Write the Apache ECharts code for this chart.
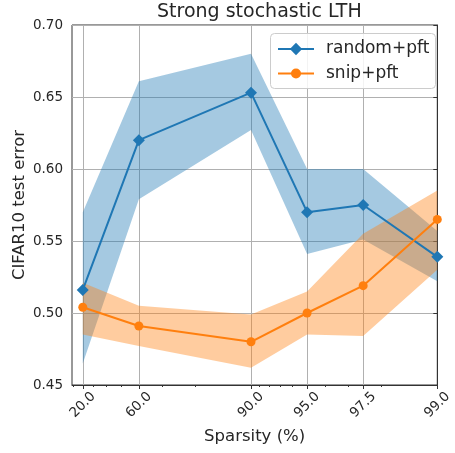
<!DOCTYPE html>
<html><head><meta charset="utf-8">
<script src="https://cdn.jsdelivr.net/npm/echarts@6/dist/echarts.min.js"></script>
<style>html,body{margin:0;padding:0;background:#fff}#c{width:455px;height:453px}</style>
</head><body><div id="c"></div><script>
// ---- data ----
const sparsity = [20.0, 60.0, 90.0, 95.0, 97.5, 99.0];
const xTickLabels = ['20.0', '60.0', '90.0', '95.0', '97.5', '99.0'];
const minorSparsity = [10, 30, 40, 50, 70, 80, 91, 92, 93, 94, 96, 97, 98];
const randomMean = [0.516, 0.620, 0.653, 0.570, 0.575, 0.539];
const randomLow  = [0.465, 0.579, 0.627, 0.541, 0.551, 0.522];
const randomHigh = [0.570, 0.661, 0.680, 0.600, 0.600, 0.557];
const snipMean = [0.504, 0.491, 0.480, 0.500, 0.519, 0.565];
const snipLow  = [0.485, 0.477, 0.462, 0.485, 0.484, 0.530];
const snipHigh = [0.521, 0.505, 0.499, 0.515, 0.555, 0.585];
const xLeftSparsity = 8.6; // axis left limit (in sparsity %)

// log scale of remaining weights (100 - sparsity), inverted
const toAxis = s => Math.log10(100 - s);
const fromAxis = v => 100 - Math.pow(10, v);

const FONT = 'DejaVu Sans';
const TXT = '#262626';
const BLUE = '#1f77b4', ORANGE = '#ff7f0e';

const pts = (ys) => sparsity.map((s, i) => [toAxis(s), ys[i]]);
const bandRows = (lo, hi) => sparsity.map((s, i) => [toAxis(s), lo[i], hi[i]]);

function bandSeries(name, lo, hi, fill, z) {
  const rows = bandRows(lo, hi);
  return {
    name: name, type: 'custom', data: rows, silent: true, z: z,
    encode: {x: 0, y: [1, 2]},
    renderItem: (params, api) => {
      if (params.dataIndex !== 0) return;
      const upper = rows.map(r => api.coord([r[0], r[2]]));
      const lower = rows.map(r => api.coord([r[0], r[1]])).reverse();
      return {type: 'polygon', shape: {points: upper.concat(lower)}, style: {fill: fill}};
    }
  };
}

const legendCommon = {
  orient: 'vertical', padding: 0, itemWidth: 36, z: 12,
  textStyle: {fontFamily: FONT, fontSize: 17, color: TXT, padding: [0, 0, 0, 7]}
};

const chart = echarts.init(document.getElementById('c'), null, {renderer: 'canvas'});
const xMin = 0, xMax = toAxis(xLeftSparsity);

chart.setOption({
  animation: false,
  backgroundColor: '#fff',
  textStyle: {fontFamily: FONT},
  title: {
    text: 'Strong stochastic LTH',
    left: 157, top: 3, padding: 0,
    textStyle: {fontFamily: FONT, fontSize: 19, fontWeight: 'normal', color: TXT}
  },
  grid: {left: 72, right: 12, top: 25, bottom: 68, show: true, borderColor: '#333', borderWidth: 1, containLabel: false},
  graphic: [{
    type: 'rect', left: 270, top: 33, z: 10,
    shape: {width: 165, height: 55, r: 4},
    style: {fill: 'rgba(255,255,255,0.85)', stroke: '#cccccc', lineWidth: 1}
  }],
  legend: [
    Object.assign({data: ['random+pft'], left: 277, top: 40.5, itemHeight: 15.4}, legendCommon),
    Object.assign({data: ['snip+pft'], left: 277, top: 65, itemHeight: 12.5}, legendCommon)
  ],
  xAxis: [{
    type: 'value', min: xMin, max: xMax, inverse: true, position: 'bottom',
    name: 'Sparsity (%)', nameLocation: 'middle', nameGap: 43, nameMoveOverlap: false,
    nameTextStyle: {fontFamily: FONT, fontSize: 16.5, color: TXT},
    axisLine: {show: true, lineStyle: {color: '#333', width: 1}},
    axisTick: {show: true, length: 4, lineStyle: {color: '#333'}, customValues: sparsity.map(toAxis)},
    axisLabel: {
      show: true, customValues: sparsity.map(toAxis), rotate: 45, margin: 20,
      align: 'center', verticalAlign: 'middle',
      fontFamily: FONT, fontSize: 13.5, color: TXT,
      formatter: v => {
        const s = fromAxis(v);
        let best = 0;
        sparsity.forEach((t, i) => { if (Math.abs(t - s) < Math.abs(sparsity[best] - s)) best = i; });
        return xTickLabels[best];
      }
    },
    splitLine: {show: true, lineStyle: {color: '#b0b0b0', width: 1}}
  }, {
    type: 'value', min: xMin, max: xMax, inverse: true, position: 'bottom',
    axisLine: {show: false},
    axisTick: {show: true, length: 2, lineStyle: {color: '#333'}, customValues: minorSparsity.map(toAxis)},
    axisLabel: {show: false},
    splitLine: {show: false}
  }],
  yAxis: {
    type: 'value', min: 0.45, max: 0.70, interval: 0.05,
    name: 'CIFAR10 test error', nameLocation: 'middle', nameGap: 44, nameMoveOverlap: false,
    nameTextStyle: {fontFamily: FONT, fontSize: 16.5, color: TXT},
    axisLine: {show: true, lineStyle: {color: '#333', width: 1}},
    axisTick: {show: true, length: 4, lineStyle: {color: '#333'}},
    axisLabel: {fontFamily: FONT, fontSize: 13.5, color: TXT, margin: 9, formatter: v => v.toFixed(2)},
    splitLine: {show: true, lineStyle: {color: '#b0b0b0', width: 1}}
  },
  series: [
    bandSeries('randomBand', randomLow, randomHigh, 'rgba(31,119,180,0.4)', 1),
    bandSeries('snipBand', snipLow, snipHigh, 'rgba(255,127,14,0.4)', 2),
    {name: 'random+pft', type: 'line', data: pts(randomMean), symbol: 'diamond', symbolSize: 12,
     itemStyle: {color: BLUE}, lineStyle: {color: BLUE, width: 2}, z: 3},
    {name: 'snip+pft', type: 'line', data: pts(snipMean), symbol: 'circle', symbolSize: 9,
     itemStyle: {color: ORANGE}, lineStyle: {color: ORANGE, width: 2}, z: 3}
  ]
});
</script></body></html>
